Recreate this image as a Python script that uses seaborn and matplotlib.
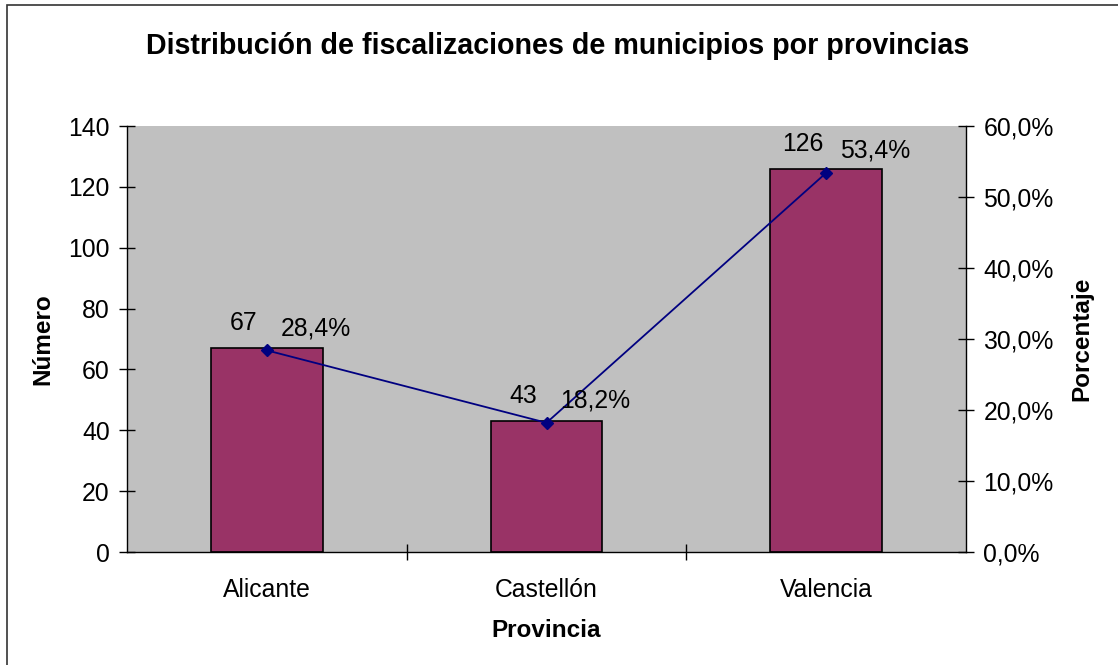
import matplotlib
matplotlib.use("Agg")
import matplotlib.pyplot as plt
import matplotlib.patches as mpatches
from matplotlib.ticker import FuncFormatter, FixedLocator
import pandas as pd
import seaborn as sns

# datos
provincias = ["Alicante", "Castellón", "Valencia"]
numero = [67, 43, 126]
porcentaje = [28.4, 18.2, 53.4]

df = pd.DataFrame({"Provincia": provincias, "Número": numero, "Porcentaje": porcentaje})

sns.set_style("ticks")
plt.rcParams["font.family"] = ["Liberation Sans", "DejaVu Sans"]
for k in ["text.color", "axes.labelcolor", "xtick.color", "ytick.color"]:
    plt.rcParams[k] = "black"

fs = 17.8

fig = plt.figure(figsize=(11.18, 6.65), dpi=100)
ax = fig.add_axes([127 / 1118, 1 - 552 / 665, (966 - 127) / 1118, (552 - 126) / 665])
ax.set_facecolor("#C0C0C0")

sns.barplot(data=df, x="Provincia", y="Número", ax=ax, color="#993366",
            saturation=1, width=0.4, edgecolor="black", linewidth=1.2)

ax2 = ax.twinx()
sns.pointplot(data=df, x="Provincia", y="Porcentaje", ax=ax2, color="#000080",
              markers="D", markersize=6, linewidth=1.3)

ax.set_xlim(-0.5, 2.5)
ax.set_ylim(0, 140)
ax.set_yticks(range(0, 141, 20))
ax2.set_ylim(0, 60)
ax2.set_yticks(range(0, 61, 10))
ax2.yaxis.set_major_formatter(FuncFormatter(lambda v, p: f"{v:.1f}%".replace(".", ",")))

# ticks del eje x entre categorias
ax.xaxis.set_minor_locator(FixedLocator([0.5, 1.5]))
ax.tick_params(axis="x", which="major", length=0, pad=19, labelsize=fs)
ax.tick_params(axis="x", which="minor", direction="inout", length=11, width=1)
ax.tick_params(axis="y", direction="inout", length=11, width=1, pad=7, labelsize=fs)
ax2.tick_params(axis="y", direction="inout", length=11, width=1, pad=7, labelsize=fs)

for sp in ["top", "right"]:
    ax.spines[sp].set_visible(False)
    ax2.spines[sp].set_visible(sp == "right")
ax2.spines["left"].set_visible(False)
ax2.spines["bottom"].set_visible(False)
for s in [ax.spines["left"], ax.spines["bottom"], ax2.spines["right"]]:
    s.set_color("black")
    s.set_linewidth(1)

ax.set_xlabel("Provincia", fontsize=17.5, fontweight="bold", labelpad=12)
ax.set_ylabel("Número", fontsize=17.5, fontweight="bold", labelpad=10)
ax2.set_ylabel("Porcentaje", fontsize=17.5, fontweight="bold", labelpad=12)

# etiquetas de datos
for i, (n, p) in enumerate(zip(numero, porcentaje)):
    ax.annotate(str(n), (i, n), xytext=(-17, 18), textcoords="offset points",
                ha="center", va="center", fontsize=fs)
    ax2.annotate(f"{p:.1f}%".replace(".", ","), (i, p), xytext=(10, 16),
                 textcoords="offset points", ha="left", va="center", fontsize=fs)

fig.text(558 / 1118, 1 - 46 / 665, "Distribución de fiscalizaciones de municipios por provincias",
         ha="center", va="center", fontsize=20.6, fontweight="bold")

# marco del grafico
fig.patches.append(mpatches.Rectangle((7 / 1118, -0.1), 1.2, (1 - 5 / 665) + 0.1,
                                      transform=fig.transFigure, fill=False,
                                      edgecolor="#333333", linewidth=1.2))

fig.savefig("out.png", dpi=100)
